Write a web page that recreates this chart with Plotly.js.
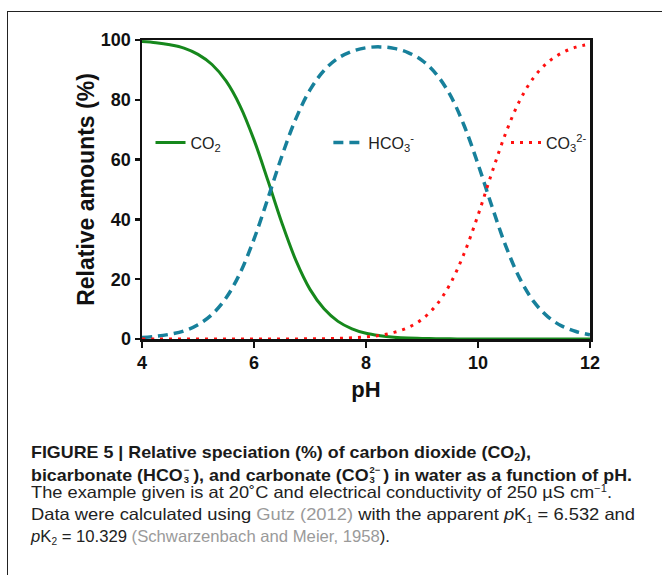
<!DOCTYPE html>
<html>
<head>
<meta charset="utf-8">
<script src="https://cdn.plot.ly/plotly-3.0.1.min.js"></script>
<style>
  html, body { margin:0; padding:0; background:#fff; width:662px; height:575px; overflow:hidden; }
  #frame { position:absolute; left:7px; top:11px; width:700px; height:600px;
           border-left:1.5px solid #222; border-top:1.5px solid #222; }
  #chart { position:absolute; left:0; top:0; width:662px; height:420px; }
  .cap { position:absolute; left:31px; white-space:nowrap; transform-origin:0 0;
         font-family:"Liberation Sans",Arial,Helvetica,sans-serif; line-height:17px; }
  .b { font-weight:bold; color:#1a1a1a; font-size:17px; }
  .r { font-weight:normal; color:#222; font-size:16.5px; }
  .g { color:#9a9a9a; }
  .ss { display:inline-block; position:relative; height:17px; vertical-align:baseline; margin:0 1px; }
  .ss span { position:absolute; left:0; font-size:9px; line-height:9px; white-space:nowrap; }
  .ss .sp { top:2px; }
  .ss .sb { top:12px; }
  sub { font-size:10px; vertical-align:-3px; line-height:0; }
  sup { font-size:10px; vertical-align:6px; line-height:0; }
</style>
</head>
<body>
<div id="frame"></div>
<div id="chart"></div>
<div class="cap b" data-w="500" style="top:444px">FIGURE 5 | Relative speciation (%) of carbon dioxide (CO<sub>2</sub>),</div>
<div class="cap b" data-w="601" style="top:463.5px">bicarbonate (HCO<span class="ss" style="width:8px"><span class="sp">−</span><span class="sb">3</span></span>), and carbonate (CO<span class="ss" style="width:12px"><span class="sp">2−</span><span class="sb">3</span></span>) in water as a function of pH.</div>
<div class="cap r" data-w="581" style="top:484px">The example given is at 20˚C and electrical conductivity of 250 µS cm<sup>−1</sup>.</div>
<div class="cap r" data-w="604" style="top:506px">Data were calculated using <span class="g">Gutz (2012)</span> with the apparent <i>p</i>K<sub>1</sub> = 6.532 and</div>
<div class="cap r" data-w="359" style="top:528px"><i>p</i>K<sub>2</sub> = 10.329 <span class="g">(Schwarzenbach and Meier, 1958</span>).</div>
<script>
// pH values
const pH = [4, 4.25, 4.5, 4.75, 5, 5.25, 5.5, 5.75, 6, 6.25, 6.5, 6.75, 7, 7.25, 7.5, 7.75,
            8, 8.25, 8.5, 8.75, 9, 9.25, 9.5, 9.75, 10, 10.25, 10.5, 10.75, 11, 11.25, 11.5, 11.75, 12];
// Relative amounts (%)
const co2  = [99.5, 99.1, 98.4, 97.3, 95.2, 91.8, 86.3, 78.0, 66.6, 52.9, 38.7, 26.2, 16.6, 10.1, 5.9, 3.4,
              1.9, 1.1, 0.6, 0.3, 0.2, 0.1, 0.05, 0, 0, 0, 0, 0, 0, 0, 0, 0, 0];
const hco3 = [0.5, 0.9, 1.6, 2.7, 4.8, 8.2, 13.7, 22.0, 33.4, 47.1, 61.3, 73.8, 83.3, 89.8, 93.9, 96.2,
              97.4, 97.7, 97.2, 95.8, 93.2, 88.7, 81.7, 71.5, 58.5, 44.3, 30.9, 20.1, 12.4, 7.4, 4.3, 2.5, 1.4];
const co3  = [0, 0, 0, 0, 0, 0, 0, 0, 0, 0, 0, 0, 0.1, 0.1, 0.2, 0.4,
              0.7, 1.2, 2.2, 3.8, 6.6, 11.2, 18.3, 28.5, 41.4, 55.7, 69.1, 79.9, 87.6, 92.6, 95.7, 97.6, 98.6];
const seriesNames = ['CO<sub>2</sub>', 'HCO<sub>3</sub><sup>-</sup>', 'CO<sub>3</sub><sup>2-</sup>'];
const xTicks = [4, 6, 8, 10, 12];
const yTicks = [0, 20, 40, 60, 80, 100];

const FONT = '"Liberation Sans", Arial, Helvetica, sans-serif';

const traces = [
  { x: pH, y: co2, name: seriesNames[0], mode: 'lines', cliponaxis: false, legend: 'legend',
    line: { color: '#16881c', width: 3, shape: 'spline' } },
  { x: pH, y: hco3, name: seriesNames[1], mode: 'lines', cliponaxis: false, legend: 'legend2',
    line: { color: '#17809b', width: 3.5, dash: '10px,6px', shape: 'spline' } },
  { x: pH, y: co3, name: seriesNames[2], mode: 'lines', cliponaxis: false, legend: 'legend3',
    line: { color: '#ff1010', width: 3, dash: '3px,6px', shape: 'spline' } }
];

const axisCommon = {
  showgrid: false, zeroline: false, showline: true, mirror: true,
  linecolor: '#111', linewidth: 2.5, ticks: 'outside', tickwidth: 2.5, tickcolor: '#111',
  tickfont: { family: FONT, size: 18, color: '#111', weight: 'bold' }
};

function legendAt(x) {
  return { orientation: 'h', x: x, y: 0.657, xanchor: 'left', yanchor: 'middle',
           bgcolor: 'rgba(0,0,0,0)', borderwidth: 0,
           font: { family: FONT, size: 16, color: '#222' } };
}

const layout = {
  width: 662, height: 420,
  margin: { l: 142, r: 72, t: 40, b: 81 },
  paper_bgcolor: 'rgba(0,0,0,0)', plot_bgcolor: 'rgba(0,0,0,0)',
  font: { family: FONT, color: '#111' },
  showlegend: true,
  legend: legendAt(0.019),
  legend2: legendAt(0.416),
  legend3: legendAt(0.8125),
  xaxis: Object.assign({}, axisCommon, {
    range: [4, 12], tickvals: xTicks, ticklen: 6,
    title: { text: '<b>pH</b>', standoff: 10, font: { family: FONT, size: 22, color: '#111' } }
  }),
  yaxis: Object.assign({}, axisCommon, {
    range: [0, 100], tickvals: yTicks, ticklen: 5,
    title: { text: '<b>Relative amounts (%)</b>', standoff: 0, font: { family: FONT, size: 23, color: '#111' } }
  })
};

Plotly.newPlot('chart', traces, layout, { displayModeBar: false, staticPlot: true });

function fitCaptions() {
  document.querySelectorAll('.cap').forEach(el => {
    el.style.transform = 'none';
    const w = el.getBoundingClientRect().width;
    const target = parseFloat(el.dataset.w);
    if (w > 0) el.style.transform = 'scaleX(' + (target / w) + ')';
  });
}
if (document.fonts && document.fonts.ready) document.fonts.ready.then(fitCaptions);
fitCaptions();
</script>
</body>
</html>
